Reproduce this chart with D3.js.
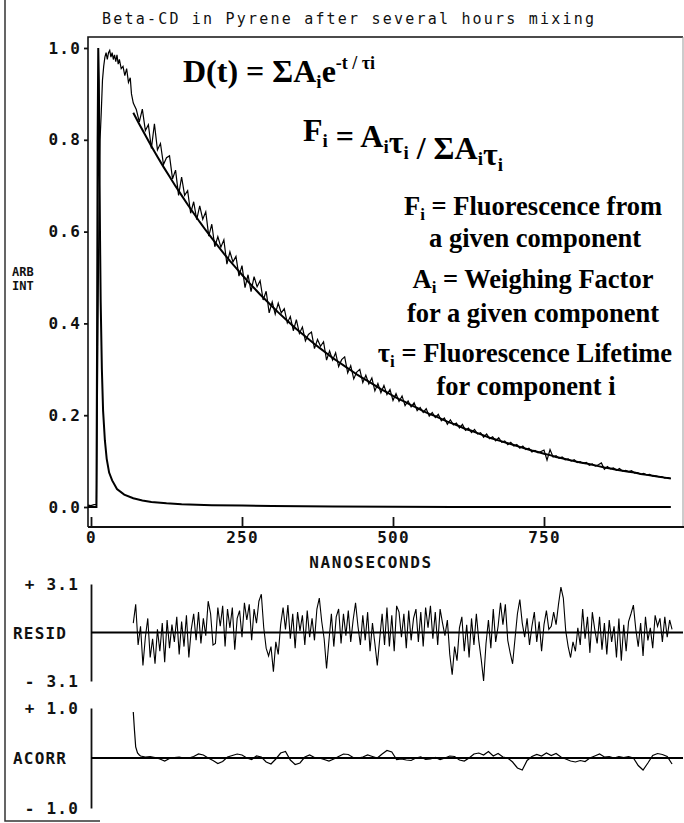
<!DOCTYPE html>
<html>
<head>
<meta charset="utf-8">
<script src="https://cdn.jsdelivr.net/npm/d3@7"></script>
<style>
  body { margin: 0; background: #fff; }
  svg { display: block; background: #fff; }
  .mono { font-family: "DejaVu Sans Mono", monospace; font-weight: bold; fill: #111; }
  .serif { font-family: "Liberation Serif", "Times New Roman", serif; font-weight: bold; fill: #000; }
</style>
</head>
<body>
<svg id="chart"></svg>
<script>
// ---- data ----
const title = "Beta-CD in Pyrene after several hours mixing";
const xTicks = [0, 250, 500, 750];
const yTicks = [0, 0.2, 0.4, 0.6, 0.8, 1.0];
const residTicks = [-3.1, 3.1];
const acorrTicks = [-1.0, 1.0];

// measured decay, rise part (ns, arb int)
const decayRise = [[-5,0.004],[0,0.003],[5,0.005],[9,0.006],[11,0.30],[13,0.62],[15,0.80],[17,0.86],
  [19,0.93],[21,0.96],[23,0.98],[25,0.99],[27,0.975],[29,0.99],[31,0.995],[33,0.98],[35,0.99],
  [37,0.975],[39,0.985],[41,0.97],[43,0.985],[45,0.965],[47,0.975],[50,0.955],[53,0.96],[56,0.94],
  [59,0.955],[62,0.925],[65,0.935],[67,0.90],[70,0.88]];
// measured decay from 75 ns, one value every 5 ns
const decayStart = 75, decayStep = 5;
const decayValues = [
  .866,.839,.867,.820,.833,.781,.835,.778,.792,.746,.761,.765,.715,.734,.679,.719,.679,.689,.640,.665,
  .626,.656,.627,.643,.590,.616,.567,.589,.566,.582,.529,.556,.534,.546,.503,.526,.478,.506,.469,.502,
  .480,.493,.451,.470,.423,.447,.420,.444,.423,.432,.401,.415,.384,.408,.378,.392,.362,.376,.381,.345,
  .365,.350,.360,.320,.340,.320,.336,.306,.321,.327,.292,.308,.279,.294,.300,.271,.287,.268,.281,.253,
  .269,.249,.265,.245,.256,.232,.247,.230,.242,.221,.231,.218,.227,.210,.217,.206,.214,.198,.206,.195,
  .202,.188,.194,.180,.190,.179,.183,.172,.180,.167,.172,.162,.169,.159,.162,.152,.159,.149,.153,.144,
  .151,.141,.144,.136,.141,.133,.136,.128,.133,.125,.128,.120,.123,.118,.121,.124,.102,.125,.109,.112,
  .106,.109,.103,.105,.100,.103,.097,.099,.095,.097,.091,.094,.089,.092,.096,.082,.088,.083,.085,.080,
  .084,.078,.080,.077,.079,.074,.075,.071,.073,.070,.071,.067,.068,.066,.066,.063,.064,.062];

// fitted decay, every 10 ns from 70 ns
const fitStart = 70, fitStep = 10;
const fitValues = [
  .859,.834,.810,.786,.763,.741,.720,.699,.679,.659,.640,.621,.603,.586,.569,.552,.536,.521,.506,.491,
  .477,.463,.450,.437,.424,.412,.400,.388,.377,.366,.355,.345,.335,.325,.316,.307,.298,.289,.281,.273,
  .265,.257,.250,.242,.235,.229,.222,.216,.209,.203,.198,.192,.186,.181,.176,.170,.166,.161,.156,.151,
  .147,.143,.139,.135,.131,.127,.123,.120,.116,.113,.109,.106,.103,.100,.097,.095,.092,.089,.086,.084,
  .081,.079,.077,.075,.072,.070,.068,.066,.064,.062];

// fast component curve (ns, arb int)
const fastCurve = [[-5,0],[9,0],[10,0.35],[11,0.8],[12,1.0],[13,0.93],[14,0.75],[15,0.58],[16,0.45],
  [18,0.30],[20,0.21],[23,0.145],[26,0.105],[30,0.075],[35,0.058],[43,0.039],[55,0.027],[70,0.019],
  [85,0.014],[100,0.011],[125,0.008],[150,0.006],[200,0.004],[250,0.003],[300,0.002],[400,0.001],
  [500,0.0005],[600,0],[960,0]];

// weighted residuals, every 4 ns from 70 ns
const residStart = 70, residStep = 4;
const residValues = [
  0.6,1.8,-0.8,0.4,-2.1,-0.3,0.9,-1.6,-0.4,-2.0,0.2,-1.2,0.6,-1.9,0.8,-1.0,0.5,-0.6,1.0,-1.4,
  0.7,-0.9,1.1,-1.6,0.2,1.2,-0.5,1.3,-0.7,0.9,-0.2,2.0,1.2,-0.8,-0.7,1.6,0.4,1.7,-0.9,1.5,
  0.3,1.6,-1.1,0.9,1.4,-0.3,1.9,0.8,1.8,-0.5,1.5,0.6,2.0,2.45,0.3,-1.0,-1.5,-0.9,-2.5,-0.6,
  -1.4,0.5,1.6,0.2,1.75,-0.4,1.2,-1.0,1.3,0.1,1.1,-0.8,1.4,-0.3,0.9,-0.5,1.5,2.2,0.7,-0.4,
  -2.3,-0.5,1.2,-0.9,1.0,1.5,-0.7,1.2,-0.2,1.4,-0.6,0.8,1.9,0.4,-0.8,1.1,-0.5,1.3,-1.2,0.6,
  -0.7,-2.1,-0.4,1.2,-0.8,1.6,-0.9,1.1,-1.2,1.7,1.3,-0.3,1.2,-1.0,1.4,-0.5,0.9,1.5,-0.6,1.3,
  -0.9,1.6,0.3,1.7,-0.4,1.3,-0.8,1.5,0.6,-0.2,0.8,-1.4,-2.7,-0.9,-1.8,0.3,1.0,-1.2,0.5,-1.6,
  0.9,-0.8,1.2,-0.5,-1.7,-3.1,-0.7,0.8,-1.0,1.5,-0.6,0.4,1.9,0.5,1.8,-0.5,-1.3,-2.0,-0.4,1.2,
  2.1,0.6,-0.3,0.9,-0.8,0.4,1.3,-0.6,0.7,-1.2,0.5,1.4,0.2,0.4,1.3,0.5,1.8,2.9,2.2,0.1,
  -0.9,-1.6,-0.6,-1.2,0.3,-0.8,1.5,-0.4,1.0,-1.3,1.3,0.2,-0.7,1.0,-1.1,0.6,-1.4,0.8,-0.6,0.4,
  -1.6,0.9,-1.8,0.5,-1.2,0.7,1.2,1.75,0.2,-0.9,0.6,-1.5,1.0,-0.5,0.3,-1.0,1.1,0.4,0.9,-0.6,
  1.0,-0.3,0.8,0.2];

// autocorrelation of residuals
const acorrHead = [[70,0.92],[72,0.55],[74,0.22],[77,0.10],[80,0.06]];
const acorrStart = 82, acorrStep = 8;
const acorrValues = [
  0.04,0.02,0.03,0.01,-0.02,-0.06,-0.01,0.01,0.02,0.0,0.0,0.03,0.08,0.06,0.0,-0.05,-0.11,-0.07,0.02,0.05,
  0.08,0.06,0.0,-0.03,0.04,0.02,-0.08,-0.12,-0.02,0.10,0.13,-0.04,-0.13,-0.10,0.02,0.06,0.01,0.0,-0.03,-0.06,
  -0.02,0.03,0.08,0.07,0.01,0.0,0.02,0.06,0.03,0.0,0.08,0.15,0.12,-0.03,-0.02,-0.04,-0.05,0.0,0.02,-0.03,
  -0.02,0.01,-0.03,0.0,0.04,0.03,-0.04,-0.06,0.0,0.08,0.10,0.06,0.13,0.04,0.09,0.02,0.0,-0.08,-0.20,-0.24,
  -0.05,0.03,0.07,0.04,0.10,0.05,0.09,0.02,-0.02,-0.06,-0.08,-0.05,-0.07,0.0,0.04,0.08,0.02,0.03,0.0,0.03,
  0.01,0.03,0.0,-0.15,-0.24,-0.10,0.05,0.09,0.07,0.03,-0.12];

// ---- build point lists ----
const measured = decayRise.concat(decayValues.map((v, i) => [decayStart + i * decayStep, v]));
const fitted = fitValues.map((v, i) => [fitStart + i * fitStep, v]);
const resid = residValues.map((v, i) => [residStart + i * residStep, v]);
const acorr = acorrHead.concat(acorrValues.map((v, i) => [acorrStart + i * acorrStep, v]));

const width = 684, height = 823;
const svg = d3.select("#chart")
  .attr("width", width)
  .attr("height", height);

// shared time scale
const x = d3.scaleLinear().domain([0, 1000]).range([91, 695]);
const y = d3.scaleLinear().domain([0, 1]).range([507, 48]);
const ry = d3.scaleLinear().domain([-3.1, 3.1]).range([681, 584]);
const ay = d3.scaleLinear().domain([-1, 1]).range([808, 708]);

// page border left by the scan
svg.append("path")
  .attr("d", "M5,0V821H100")
  .attr("fill", "none")
  .attr("stroke", "#333")
  .attr("stroke-width", 1.5);

svg.append("text")
  .attr("class", "mono")
  .attr("x", 102)
  .attr("y", 24)
  .style("font-size", "15px")
  .style("font-weight", "normal")
  .style("letter-spacing", "2.2px")
  .text(title);

// main frame
svg.append("path")
  .attr("d", "M88,527V37H683")
  .attr("fill", "none")
  .attr("stroke", "#111")
  .attr("stroke-width", 1.6);
svg.append("line")
  .attr("x1", 683).attr("x2", 683)
  .attr("y1", 37).attr("y2", 527)
  .attr("stroke", "#999")
  .attr("stroke-width", 1);
svg.append("line")
  .attr("x1", 88).attr("x2", 684)
  .attr("y1", 527).attr("y2", 527)
  .attr("stroke", "#111")
  .attr("stroke-width", 2);

const gy = svg.append("g")
  .attr("transform", "translate(88,0)")
  .call(d3.axisLeft(y).tickValues(yTicks).tickSize(4).tickPadding(3).tickFormat(d3.format(".1f")));
gy.select(".domain").remove();

const gx = svg.append("g")
  .attr("transform", "translate(0,527)")
  .call(d3.axisBottom(x).tickValues(xTicks).tickSizeInner(-10).tickSizeOuter(0).tickPadding(5));
gx.select(".domain").remove();

svg.selectAll(".tick line").attr("stroke", "#111").attr("stroke-width", 1.8);
svg.selectAll(".tick text")
  .attr("class", "mono")
  .style("font-size", "16px")
  .style("letter-spacing", "1.2px")
  .attr("fill", "#111");

svg.append("text").attr("class", "mono").attr("x", 12).attr("y", 276)
  .style("font-size", "12px").text("ARB");
svg.append("text").attr("class", "mono").attr("x", 12).attr("y", 290)
  .style("font-size", "12px").text("INT");

svg.append("text")
  .attr("class", "mono")
  .attr("x", 371)
  .attr("y", 568)
  .attr("text-anchor", "middle")
  .style("font-size", "16px")
  .style("letter-spacing", "1.6px")
  .text("NANOSECONDS");

const line = d3.line().x(d => x(d[0])).y(d => y(d[1]));

svg.append("path")
  .datum(fastCurve)
  .attr("d", line)
  .attr("fill", "none")
  .attr("stroke", "#000")
  .attr("stroke-width", 2);

svg.append("path")
  .datum(measured)
  .attr("d", line)
  .attr("fill", "none")
  .attr("stroke", "#000")
  .attr("stroke-width", 1.2);

svg.append("path")
  .datum(fitted)
  .attr("d", line)
  .attr("fill", "none")
  .attr("stroke", "#000")
  .attr("stroke-width", 2);

// equations
const eq1 = svg.append("text").attr("class", "serif").attr("x", 183).attr("y", 82).style("font-size", "32px");
eq1.append("tspan").text("D(t) = ΣA");
eq1.append("tspan").attr("dy", 6).style("font-size", "19px").text("i");
eq1.append("tspan").attr("dy", -6).text("e");
eq1.append("tspan").attr("dy", -13).style("font-size", "18px").text("-t / τi");

const eq2 = svg.append("text").attr("class", "serif").attr("x", 303).attr("y", 141).style("font-size", "32px");
[["F", "i"], [" = A", "i"], ["τ", "i"], [" / ΣA", "i"], ["τ", "i"]].forEach(p => {
  eq2.append("tspan").text(p[0]);
  eq2.append("tspan").attr("dy", 6).style("font-size", "19px").text(p[1]);
  eq2.append("tspan").attr("dy", -6).text("");
});

// legend block
const notes = [
  { sym: "F", rest: " = Fluorescence from", cx: 533, y: 215 },
  { sym: null, rest: "a given component", cx: 535, y: 247 },
  { sym: "A", rest: " = Weighing Factor", cx: 533, y: 288 },
  { sym: null, rest: "for a given component", cx: 533, y: 322 },
  { sym: "τ", rest: " = Fluorescence Lifetime", cx: 525, y: 362 },
  { sym: null, rest: "for component i", cx: 526, y: 395 }
];
notes.forEach(n => {
  const t = svg.append("text").attr("class", "serif")
    .attr("x", n.cx).attr("y", n.y)
    .attr("text-anchor", "middle")
    .style("font-size", "26.5px");
  if (n.sym) {
    t.append("tspan").text(n.sym);
    t.append("tspan").attr("dy", 5).style("font-size", "17px").text("i");
    t.append("tspan").attr("dy", -5).text(n.rest);
  } else {
    t.text(n.rest);
  }
});

// residual panel
const gr = svg.append("g")
  .attr("transform", "translate(91,0)")
  .call(d3.axisLeft(ry).tickValues(residTicks).tickSize(0).tickPadding(12)
    .tickFormat(d => (d > 0 ? "+ " : "- ") + Math.abs(d).toFixed(1)));
gr.select(".domain").attr("stroke", "#111").attr("stroke-width", 1.8);
gr.selectAll("text").attr("class", "mono").style("font-size", "16px").style("letter-spacing", "1.2px");

svg.append("line")
  .attr("x1", 91).attr("x2", 683)
  .attr("y1", ry(0)).attr("y2", ry(0))
  .attr("stroke", "#000").attr("stroke-width", 1.8);

svg.append("path")
  .datum(resid)
  .attr("d", d3.line().x(d => x(d[0])).y(d => ry(d[1])))
  .attr("fill", "none")
  .attr("stroke", "#000")
  .attr("stroke-width", 1.1);

svg.append("text").attr("class", "mono").attr("x", 13).attr("y", ry(0) + 6)
  .style("font-size", "16px").style("letter-spacing", "1.2px").text("RESID");

// autocorrelation panel
const ga = svg.append("g")
  .attr("transform", "translate(91,0)")
  .call(d3.axisLeft(ay).tickValues(acorrTicks).tickSize(0).tickPadding(12)
    .tickFormat(d => (d > 0 ? "+ " : "- ") + Math.abs(d).toFixed(1)));
ga.select(".domain").attr("stroke", "#111").attr("stroke-width", 1.8);
ga.selectAll("text").attr("class", "mono").style("font-size", "16px").style("letter-spacing", "1.2px");

svg.append("line")
  .attr("x1", 91).attr("x2", 683)
  .attr("y1", ay(0)).attr("y2", ay(0))
  .attr("stroke", "#000").attr("stroke-width", 1.8);

svg.append("path")
  .datum(acorr)
  .attr("d", d3.line().x(d => x(d[0])).y(d => ay(d[1])))
  .attr("fill", "none")
  .attr("stroke", "#000")
  .attr("stroke-width", 1.2);

svg.append("text").attr("class", "mono").attr("x", 13).attr("y", ay(0) + 6)
  .style("font-size", "16px").style("letter-spacing", "1.2px").text("ACORR");
</script>
</body>
</html>
